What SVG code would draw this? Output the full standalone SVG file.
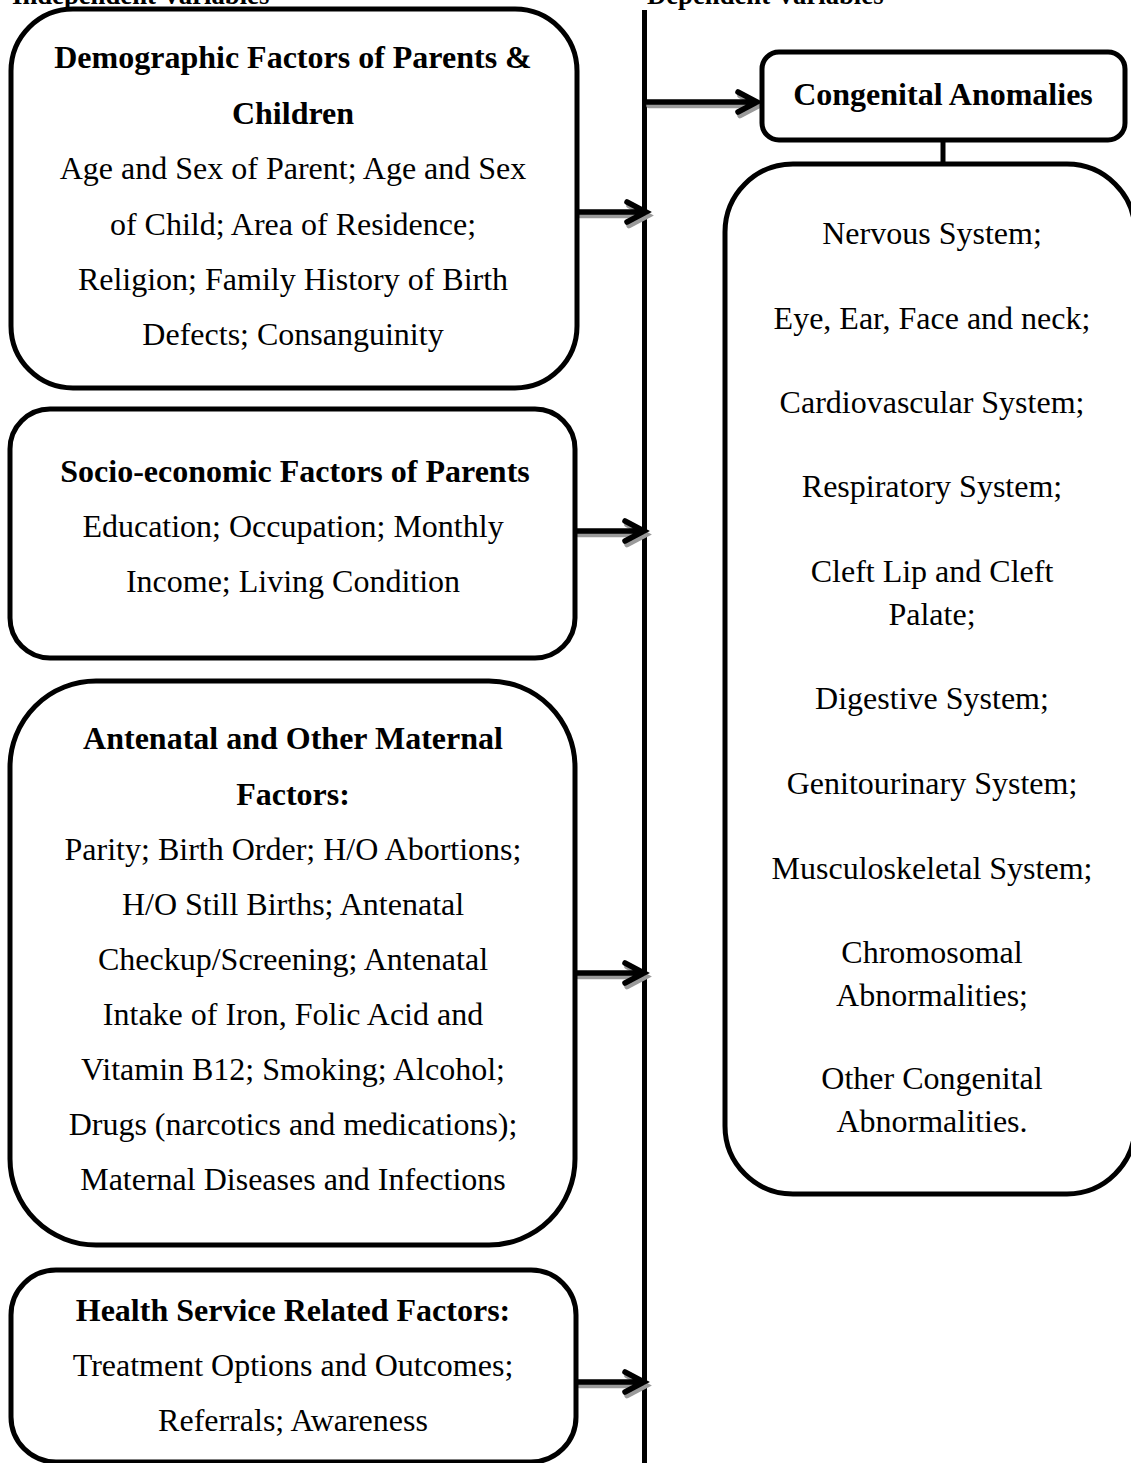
<svg xmlns="http://www.w3.org/2000/svg" xmlns:xlink="http://www.w3.org/1999/xlink" width="1131" height="1463" viewBox="0 0 1131 1463">
<style>
  .box { fill: #ffffff; stroke: #000000; stroke-width: 5; }
  .t { font-family: "Liberation Serif", "Times New Roman", serif; font-size: 32px; fill: #000000; text-anchor: middle; }
  .b { font-weight: bold; }
  .hdr { font-family: "Liberation Serif", "Times New Roman", serif; font-size: 26.7px; font-weight: bold; fill: #000000; }
  .line { stroke: #000000; stroke-width: 5; fill: none; }
  .arr { stroke: #000000; stroke-width: 5.5; fill: none; stroke-linecap: round; stroke-linejoin: miter; }
  .shadow { stroke: #9a9a9a; stroke-width: 5.5; fill: none; stroke-linecap: round; stroke-linejoin: miter; }
</style>
<rect width="1131" height="1463" fill="#ffffff"/>

<text class="hdr" x="12" y="4">Independent Variables</text>
<text class="hdr" x="647" y="4">Dependent Variables</text>

<g id="connectors">
  <line class="line" x1="644.5" y1="10" x2="644.5" y2="1463"/>
  <line class="line" x1="943" y1="140" x2="943" y2="164"/>
  <!-- shadows -->
  <path class="shadow" transform="translate(2,3.5)" d="M578 212 H646 M627 202 L646 212 L627 222"/>
  <path class="shadow" transform="translate(2,3.5)" d="M576 531 H644 M625 521 L644 531 L625 541"/>
  <path class="shadow" transform="translate(2,3.5)" d="M576 973 H644 M625 963 L644 973 L625 983"/>
  <path class="shadow" transform="translate(2,3.5)" d="M577 1382 H644 M625 1372 L644 1382 L625 1392"/>
  <path class="shadow" transform="translate(2,3.5)" d="M647 102 H757 M738 92 L757 102 L738 112"/>
  <!-- arrows -->
  <path class="arr" d="M578 212 H646 M627 202 L646 212 L627 222"/>
  <path class="arr" d="M576 531 H644 M625 521 L644 531 L625 541"/>
  <path class="arr" d="M576 973 H644 M625 963 L644 973 L625 983"/>
  <path class="arr" d="M577 1382 H644 M625 1372 L644 1382 L625 1392"/>
  <path class="arr" d="M647 102 H757 M738 92 L757 102 L738 112"/>
</g>

<g id="demographic">
  <rect class="box" x="11" y="9" width="566" height="379" rx="62" ry="62"/>
  <text class="t b" x="293" y="68">Demographic Factors of Parents &amp;</text>
  <text class="t b" x="293" y="124">Children</text>
  <text class="t" x="293" y="179">Age and Sex of Parent; Age and Sex</text>
  <text class="t" x="293" y="235">of Child; Area of Residence;</text>
  <text class="t" x="293" y="290">Religion; Family History of Birth</text>
  <text class="t" x="293" y="345">Defects; Consanguinity</text>
</g>

<g id="socioeconomic">
  <rect class="box" x="10" y="409" width="565" height="249" rx="40" ry="40"/>
  <text class="t b" x="295" y="482">Socio-economic Factors of Parents</text>
  <text class="t" x="293" y="537">Education; Occupation; Monthly</text>
  <text class="t" x="293" y="592">Income; Living Condition</text>
</g>

<g id="antenatal">
  <rect class="box" x="10" y="681" width="565" height="564" rx="86" ry="86"/>
  <text class="t b" x="293" y="749">Antenatal and Other Maternal</text>
  <text class="t b" x="293" y="805">Factors:</text>
  <text class="t" x="293" y="860">Parity; Birth Order; H/O Abortions;</text>
  <text class="t" x="293" y="915">H/O Still Births; Antenatal</text>
  <text class="t" x="293" y="970">Checkup/Screening; Antenatal</text>
  <text class="t" x="293" y="1025">Intake of Iron, Folic Acid and</text>
  <text class="t" x="293" y="1080">Vitamin B12; Smoking; Alcohol;</text>
  <text class="t" x="293" y="1135">Drugs (narcotics and medications);</text>
  <text class="t" x="293" y="1190">Maternal Diseases and Infections</text>
</g>

<g id="health">
  <rect class="box" x="11" y="1270" width="565" height="192" rx="45" ry="45"/>
  <text class="t b" x="293" y="1321">Health Service Related Factors:</text>
  <text class="t" x="293" y="1376">Treatment Options and Outcomes;</text>
  <text class="t" x="293" y="1431">Referrals; Awareness</text>
</g>

<g id="congenital">
  <rect class="box" x="762" y="52" width="363" height="88" rx="17" ry="17"/>
  <text class="t b" x="943" y="105">Congenital Anomalies</text>
</g>

<g id="systems">
  <rect class="box" x="725" y="164" width="410" height="1030" rx="68" ry="68"/>
  <text class="t" x="932" y="244">Nervous System;</text>
  <text class="t" x="932" y="329">Eye, Ear, Face and neck;</text>
  <text class="t" x="932" y="413">Cardiovascular System;</text>
  <text class="t" x="932" y="497">Respiratory System;</text>
  <text class="t" x="932" y="582">Cleft Lip and Cleft</text>
  <text class="t" x="932" y="625">Palate;</text>
  <text class="t" x="932" y="709">Digestive System;</text>
  <text class="t" x="932" y="794">Genitourinary System;</text>
  <text class="t" x="932" y="879">Musculoskeletal System;</text>
  <text class="t" x="932" y="963">Chromosomal</text>
  <text class="t" x="932" y="1006">Abnormalities;</text>
  <text class="t" x="932" y="1089">Other Congenital</text>
  <text class="t" x="932" y="1132">Abnormalities.</text>
</g>
</svg>
